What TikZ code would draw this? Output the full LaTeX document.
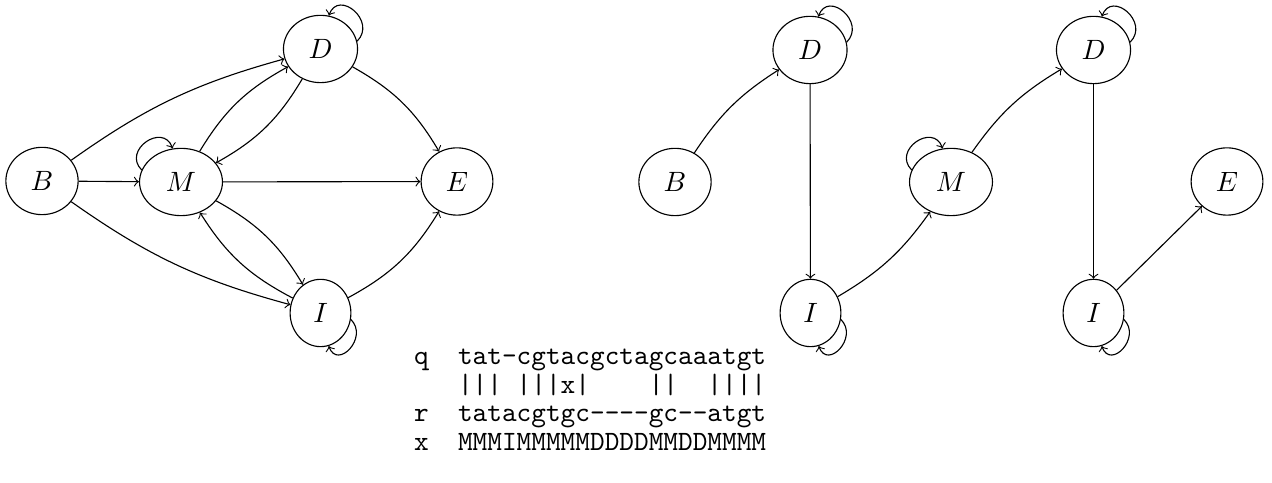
\documentclass[tikz,border=0pt]{standalone}
\usetikzlibrary{shapes.geometric}
\tikzset{
  st/.style={ellipse, draw, inner sep=5.1pt, font=\normalsize},
  lp/.style={->, looseness=1.9},
  seq/.style={anchor=base west, inner sep=0pt, font=\ttfamily}
}
\newcommand{\hy}{-\kern0pt}
\begin{document}
\begin{tikzpicture}[x=0.35791pt, y=0.35791pt]
\useasboundingbox (0,0) rectangle (1272,483);
% left graph
\node[st] (B) at (42,302) {$B$};
\node[st] (M) at (181,301) {$M$};
\node[st] (D) at (320.5,434) {$D$};
\node[st] (I) at (320.5,170) {$I$};
\node[st] (E) at (457,301.5) {$E$};
\draw[->] (B) to[bend left=10] (D);
\draw[->] (B) -- (M);
\draw[->] (B) to[bend right=10] (I);
\draw[->] (M) to[bend left=15] (D);
\draw[->] (D) to[bend left=15] (M);
\draw[->] (M) to[bend left=15] (I);
\draw[->] (I) to[bend left=15] (M);
\draw[->] (M) -- (E);
\draw[->] (D) to[bend left=15] (E);
\draw[->] (I) to[bend right=15] (E);
\draw[lp] (D.12) to[out=45,in=70] (D.76);
\draw[lp] (M.163) to[out=135,in=110] (M.104);
\draw[lp] (I.-12) to[out=-45,in=-70] (I.-76);
% right graph
\node[st] (B2) at (675,301) {$B$};
\node[st] (D1) at (810,433) {$D$};
\node[st] (I1) at (810.5,170) {$I$};
\node[st] (M2) at (951,301) {$M$};
\node[st] (D2) at (1093.5,433) {$D$};
\node[st] (I2) at (1093.5,170) {$I$};
\node[st] (E2) at (1227,301.5) {$E$};
\draw[->] (B2) to[bend left=12] (D1);
\draw[->] (D1) -- (I1);
\draw[->] (I1) to[bend right=12] (M2);
\draw[->] (M2) to[bend left=12] (D2);
\draw[->] (D2) -- (I2);
\draw[->] (I2) -- (E2);
\draw[lp] (D1.12) to[out=45,in=70] (D1.76);
\draw[lp] (D2.12) to[out=45,in=70] (D2.76);
\draw[lp] (M2.163) to[out=135,in=110] (M2.104);
\draw[lp] (I1.-12) to[out=-45,in=-70] (I1.-76);
\draw[lp] (I2.-12) to[out=-45,in=-70] (I2.-76);
% alignment
\node[seq] (q) at (413.5,118) {q~~tat\hy cgtacgctagcaaatgt};
\node[seq] (bars) at (413.5,89.5) {~~~|||~|||x|~~~~||~~||||};
\node[seq] (r) at (413.5,61) {r~~tatacgtgc\hy\hy\hy\hy gc\hy\hy atgt};
\node[seq] (x) at (413.5,32.5) {x~~MMMIMMMMMDDDDMMDDMMMM};
\end{tikzpicture}
\end{document}
